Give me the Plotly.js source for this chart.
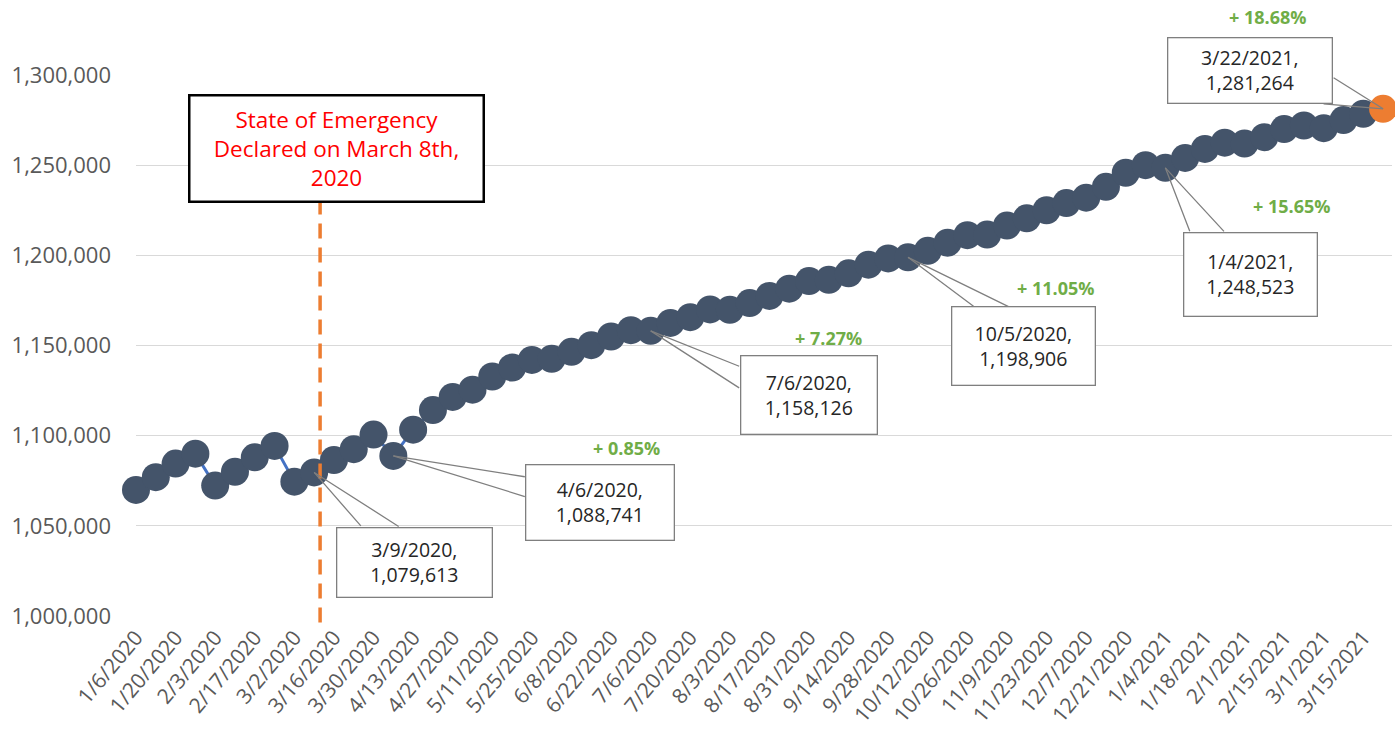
<!DOCTYPE html>
<html>
<head>
<meta charset="utf-8">
<script src="https://cdn.plot.ly/plotly-3.0.1.min.js"></script>
<style>html,body{margin:0;padding:0;background:#fff;}#chart{width:1395px;height:738px;}</style>
</head>
<body>
<div id="chart"></div>
<script>
// Weekly dates (categories)
const dates = [
  "1/6/2020","1/13/2020","1/20/2020","1/27/2020","2/3/2020","2/10/2020","2/17/2020","2/24/2020",
  "3/2/2020","3/9/2020","3/16/2020","3/23/2020","3/30/2020","4/6/2020","4/13/2020","4/20/2020",
  "4/27/2020","5/4/2020","5/11/2020","5/18/2020","5/25/2020","6/1/2020","6/8/2020","6/15/2020",
  "6/22/2020","6/29/2020","7/6/2020","7/13/2020","7/20/2020","7/27/2020","8/3/2020","8/10/2020",
  "8/17/2020","8/24/2020","8/31/2020","9/7/2020","9/14/2020","9/21/2020","9/28/2020","10/5/2020",
  "10/12/2020","10/19/2020","10/26/2020","11/2/2020","11/9/2020","11/16/2020","11/23/2020","11/30/2020",
  "12/7/2020","12/14/2020","12/21/2020","12/28/2020","1/4/2021","1/11/2021","1/18/2021","1/25/2021",
  "2/1/2021","2/8/2021","2/15/2021","2/22/2021","3/1/2021","3/8/2021","3/15/2021","3/22/2021"
];
// Series values
const values = [
  1069900,1077000,1084500,1090000,1072300,1080000,1088000,1094300,
  1074500,1079613,1086500,1092500,1100600,1088741,1103300,1114200,
  1121500,1125500,1132800,1137800,1142000,1142600,1146500,1150200,
  1155000,1158500,1158126,1162500,1165700,1170000,1169800,1173500,
  1177500,1181500,1185700,1186400,1190000,1194800,1198300,1198906,
  1202500,1207000,1211200,1211500,1216500,1220500,1225000,1229000,
  1232000,1238000,1245800,1250000,1248523,1254000,1259000,1262500,
  1262000,1265500,1270000,1272000,1270500,1275000,1278500,1281264
];
// Tick labels (every other week)
const tickLabels = dates.filter((d, i) => i % 2 === 0);
// Highlighted (callout) points
const calloutIdx = [9, 13, 26, 39, 52, 63];
const baseIdx = 9;
const pctIdx = [13, 26, 39, 52, 63];
const emergencyText = "State of Emergency<br>Declared on March 8th,<br>2020";

// styling for callouts: box center shift, box size, wedge tails (pixel offsets)
const calloutStyle = {
  9:  {xs: 100,   ys: -89.6, w: 152, h: 66, t: [[48,55],[86,55]]},
  13: {xs: 207,   ys: -46.6, w: 145, h: 72, t: [[133,21],[133,41]]},
  26: {xs: 158.8, ys: -63.7, w: 133, h: 75, t: [[90,36],[90,58]]},
  39: {xs: 115,   ys: -89,   w: 140, h: 75, t: [[67,50],[102,50]]},
  52: {xs: 84.7,  ys: -107,  w: 130, h: 80, t: [[25,65],[60,65]]},
  63: {xs: -133.5,ys: 37.8,  w: 161, h: 62, t: [[-51,-32],[-61,-5]]}
};
const pctPos = {13: [626,448], 26: [828,338], 39: [1055,288], 52: [1291,206], 63: [1267,17]};

const L = 136, R = 3, T = 75, B = 122, W = 1395, H = 738;
const pw = W - L - R, ph = H - T - B;

const markerColors = values.map((v, i) => i === values.length - 1 ? '#ED7D31' : '#44546A');

const trace = {
  x: dates, y: values, type: 'scatter', mode: 'lines+markers',
  line: {color: '#4472C4', width: 3},
  marker: {size: 28, color: markerColors, line: {width: 0}},
  cliponaxis: false, hoverinfo: 'x+y'
};

const annotations = [];
const fmt = v => v.toLocaleString('en-US');
calloutIdx.forEach(i => {
  const s = calloutStyle[i];
  s.t.forEach(t => {
    annotations.push({x: dates[i], y: values[i], xref: 'x', yref: 'y', text: '',
      showarrow: true, arrowhead: 0, arrowwidth: 1.3, arrowcolor: '#7F7F7F',
      ax: t[0], ay: t[1], axref: 'pixel', ayref: 'pixel', standoff: 0, startstandoff: 0});
  });
  annotations.push({x: dates[i], y: values[i], xref: 'x', yref: 'y',
    text: dates[i] + ',<br>' + fmt(values[i]), showarrow: false,
    xshift: s.xs, yshift: s.ys, width: s.w, height: s.h, borderpad: 1,
    bgcolor: '#FFFFFF', bordercolor: '#7F7F7F', borderwidth: 1.3,
    font: {family: 'Open Sans, sans-serif', size: 19.5, color: '#262626'}, align: 'center', valign: 'middle'});
});
pctIdx.forEach(i => {
  const pct = (values[i] / values[baseIdx] - 1) * 100;
  const p = pctPos[i];
  annotations.push({x: (p[0] - L) / pw, y: (H - B - p[1]) / ph, xref: 'paper', yref: 'paper',
    text: '<b>+ ' + pct.toFixed(2) + '%</b>', showarrow: false, xanchor: 'center', yanchor: 'middle',
    font: {family: 'Open Sans, sans-serif', size: 18, color: '#70AD47'}});
});
annotations.push({x: (336 - L) / pw, y: (H - B - 148) / ph, xref: 'paper', yref: 'paper',
  text: emergencyText, showarrow: false, xanchor: 'center', yanchor: 'middle',
  width: 292, height: 104, borderpad: 0, bgcolor: '#FFFFFF', bordercolor: '#000000', borderwidth: 2.5,
  font: {family: 'Open Sans, sans-serif', size: 22.5, color: '#FF0000'}});

const layout = {
  width: W, height: H,
  margin: {l: L, r: R, t: T, b: B, pad: 0},
  paper_bgcolor: '#FFFFFF', plot_bgcolor: '#FFFFFF',
  showlegend: false,
  xaxis: {type: 'category', range: [0, 63.45], tickvals: tickLabels, ticktext: tickLabels,
    tickangle: -50, showgrid: false, zeroline: false, showline: false, ticks: '',
    ticklabelstandoff: 4,
    tickfont: {family: 'Open Sans, sans-serif', size: 21, color: '#595959'}},
  yaxis: {range: [1000000, 1300000], dtick: 50000, tickformat: ',d', showgrid: true,
    gridcolor: '#D9D9D9', gridwidth: 1.3, zeroline: false, showline: false, ticks: '',
    ticklabelstandoff: 24,
    tickfont: {family: 'Open Sans, sans-serif', size: 22, color: '#595959'}},
  shapes: [{type: 'line', xref: 'x', yref: 'paper', x0: 9.3, x1: 9.3, y0: -0.012, y1: 0.8,
    line: {color: '#ED7D31', width: 3.5, dash: '15px,9px'}, layer: 'above'}],
  annotations: annotations
};

Plotly.newPlot('chart', [trace], layout, {displayModeBar: false, staticPlot: true});
</script>
</body>
</html>
